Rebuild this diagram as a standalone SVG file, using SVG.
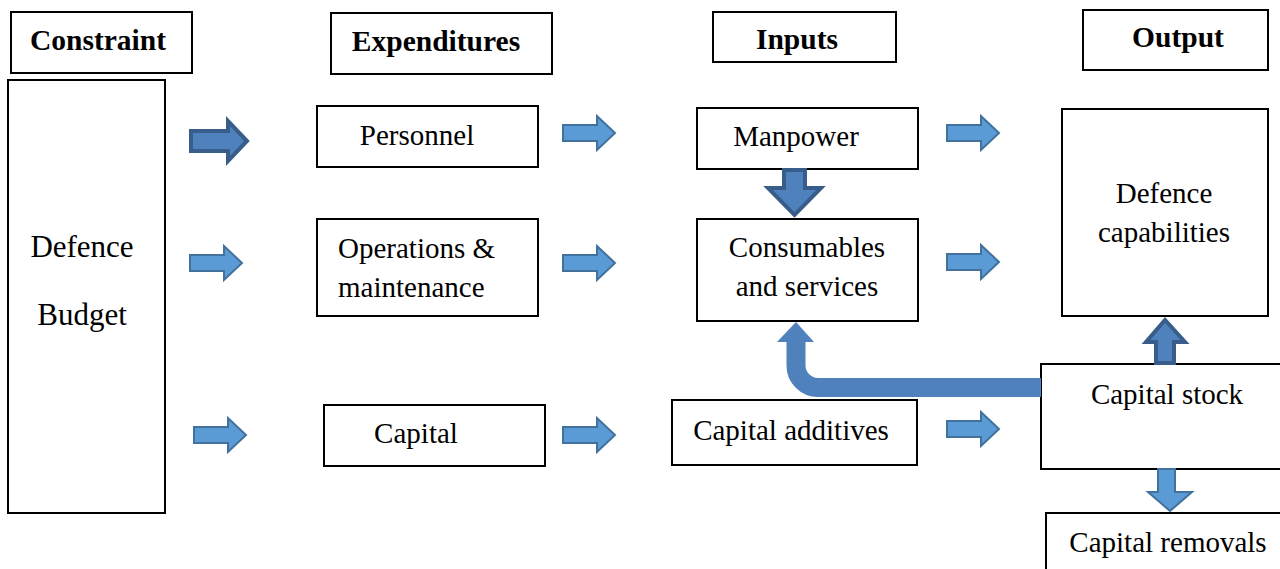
<svg xmlns="http://www.w3.org/2000/svg" width="1280" height="569" viewBox="0 0 1280 569">
  <style>
    .box { fill: #ffffff; stroke: #000000; stroke-width: 2; }
    .t { font-family: "Liberation Serif", "Times New Roman", serif; font-size: 29px; fill: #000000; text-anchor: middle; }
    .h { font-weight: bold; font-size: 29.5px; }
    .big { font-size: 31px; }
    .l { text-anchor: start; }
    .arr { fill: #5B9BD5; stroke: #41719C; stroke-width: 2; stroke-linejoin: miter; }
    .arrd { fill: #4F81BD; stroke: #385D8A; stroke-width: 4; stroke-linejoin: miter; }
  </style>
  <defs>
    <!-- block arrow pointing right, centred on its origin -->
    <path id="rarrow" d="M-26,-8 H8 V-17 L26,0 L8,17 V8 H-26 Z"/>
  </defs>

  <rect width="1280" height="569" fill="#ffffff"/>

  <!-- column headers -->
  <g id="hdr-constraint">
    <rect class="box" x="11" y="12" width="181" height="61"/>
    <text class="t h" x="98" y="50">Constraint</text>
  </g>
  <g id="hdr-expenditures">
    <rect class="box" x="331" y="13" width="221" height="61"/>
    <text class="t h" x="436" y="51">Expenditures</text>
  </g>
  <g id="hdr-inputs">
    <rect class="box" x="713" y="12" width="183" height="50"/>
    <text class="t h" x="797" y="49">Inputs</text>
  </g>
  <g id="hdr-output">
    <rect class="box" x="1083" y="10" width="185" height="60"/>
    <text class="t h" x="1178" y="47">Output</text>
  </g>

  <!-- nodes -->
  <g id="budget">
    <rect class="box" x="8" y="80" width="157" height="433"/>
    <text class="t big" x="82" y="257">Defence</text>
    <text class="t big" x="82" y="325">Budget</text>
  </g>
  <g id="personnel">
    <rect class="box" x="317" y="106" width="221" height="61"/>
    <text class="t" x="417" y="145">Personnel</text>
  </g>
  <g id="operations">
    <rect class="box" x="317" y="219" width="221" height="97"/>
    <text class="t l" x="338" y="258">Operations &amp;</text>
    <text class="t l" x="338" y="297">maintenance</text>
  </g>
  <g id="capital">
    <rect class="box" x="324" y="405" width="221" height="61"/>
    <text class="t" x="416" y="443">Capital</text>
  </g>
  <g id="manpower">
    <rect class="box" x="697" y="108" width="221" height="61"/>
    <text class="t" x="796" y="146">Manpower</text>
  </g>
  <g id="consumables">
    <rect class="box" x="697" y="219" width="221" height="102"/>
    <text class="t" x="807" y="257">Consumables</text>
    <text class="t" x="807" y="296">and services</text>
  </g>
  <g id="capital-additives">
    <rect class="box" x="672" y="400" width="245" height="65"/>
    <text class="t" x="791" y="440">Capital additives</text>
  </g>
  <g id="capabilities">
    <rect class="box" x="1062" y="109" width="206" height="207"/>
    <text class="t" x="1164" y="203">Defence</text>
    <text class="t" x="1164" y="242">capabilities</text>
  </g>
  <g id="capital-stock">
    <rect class="box" x="1041" y="364" width="245" height="105"/>
    <text class="t" x="1167" y="404">Capital stock</text>
  </g>
  <g id="capital-removals">
    <rect class="box" x="1046" y="513" width="240" height="60"/>
    <text class="t" x="1168" y="552">Capital removals</text>
  </g>

  <!-- connectors -->
  <g id="connectors">
    <g class="arrd">
      <path d="M191,131 H228 V121 L247,141 L228,161 V151 H191 Z"/>
      <path d="M784,170 H805 V188 H821 L794.5,215 L768,188 H784 Z"/>
      <path d="M1156,363 V342 H1146 L1165,320 L1185,342 H1174 V363 Z"/>
    </g>
    <g class="arr">
      <use href="#rarrow" x="216" y="263"/>
      <use href="#rarrow" x="220" y="435"/>
      <use href="#rarrow" x="589" y="133"/>
      <use href="#rarrow" x="589" y="263"/>
      <use href="#rarrow" x="589" y="435"/>
      <use href="#rarrow" x="973" y="133"/>
      <use href="#rarrow" x="973" y="262"/>
      <use href="#rarrow" x="973" y="429"/>
      <path d="M1158,469 V492 H1148 L1170,511 L1192,492 H1175 V469 Z"/>
    </g>
    <!-- feedback from capital stock back to consumables -->
    <path d="M1041,387.5 H818 A22,22 0 0 1 796,365.5 V340" fill="none" stroke="#4F81BD" stroke-width="19"/>
    <path d="M777,342 L796,322 L814,342 Z" fill="#4F81BD"/>
  </g>
</svg>
